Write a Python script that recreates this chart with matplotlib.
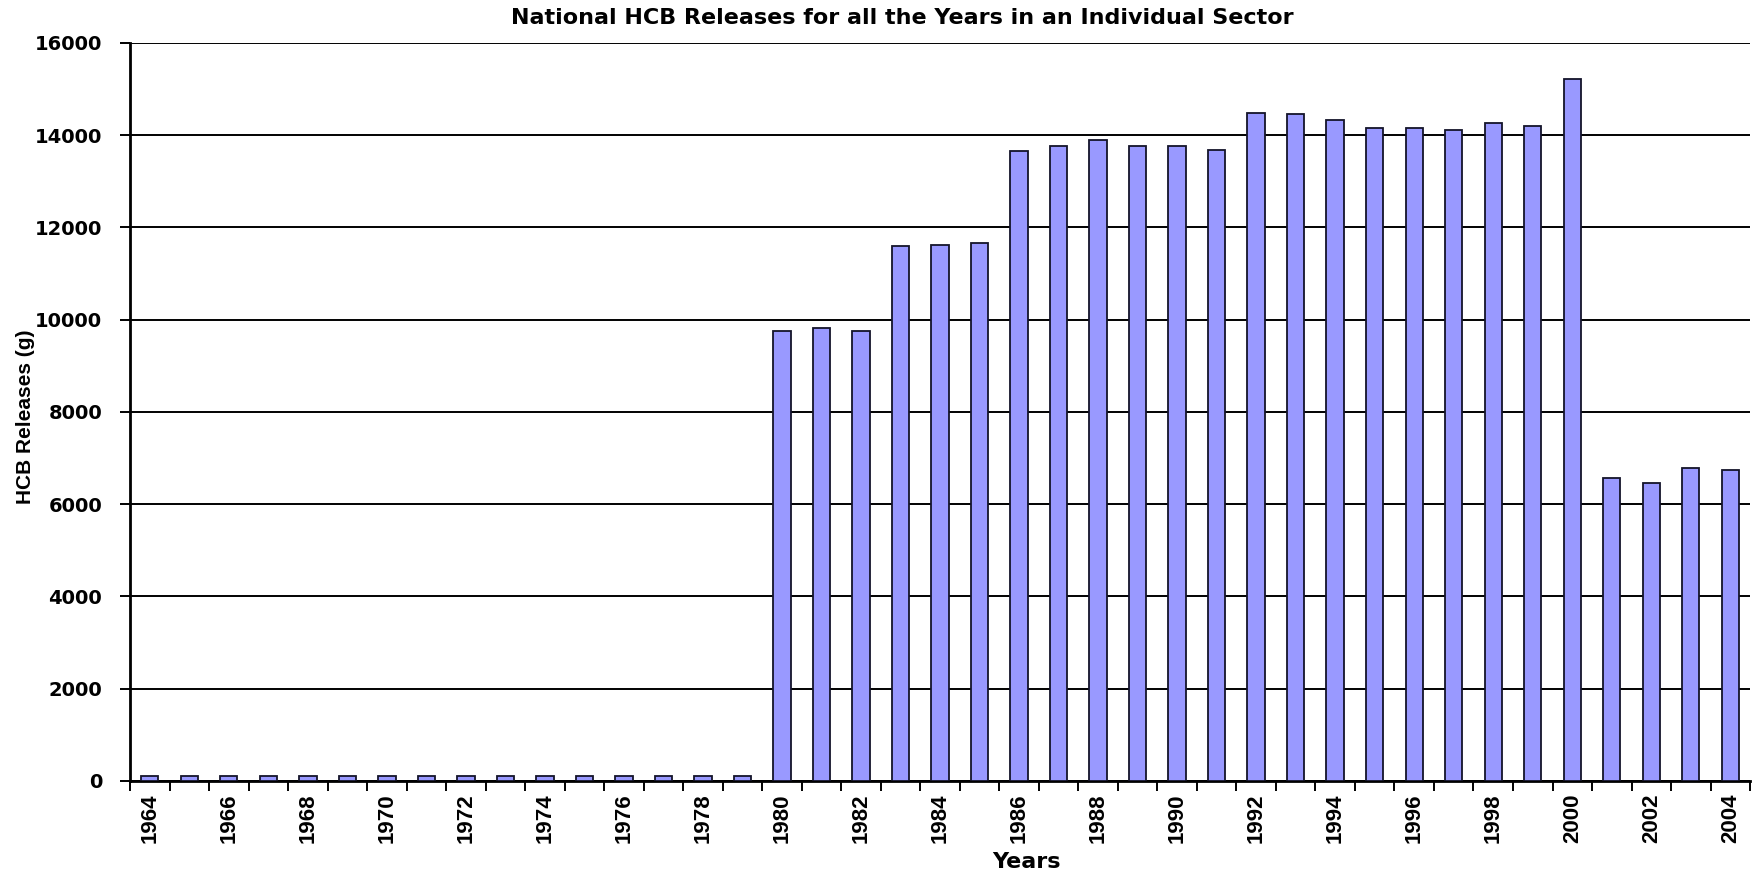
import matplotlib
matplotlib.use('Agg')
import matplotlib.pyplot as plt
import numpy as np
from matplotlib import font_manager

years = list(range(1964, 2005))

# HCB releases in grams, one value per year
releases = [110, 110, 110, 110, 110, 110, 110, 110, 110, 110, 110, 110, 110, 110, 110, 110,
            9750, 9820, 9750, 11600, 11630, 11670,
            13650, 13760, 13900, 13760, 13760, 13690,
            14480, 14450, 14340, 14160, 14160, 14120, 14270, 14200,
            15210,
            6570, 6460, 6780, 6750]

yticks = [0, 2000, 4000, 6000, 8000, 10000, 12000, 14000, 16000]

title = 'National HCB Releases for all the Years in an Individual Sector'
xlabel = 'Years'
ylabel = 'HCB Releases (g)'

# narrow font for the rotated year labels if it is around
names = set(f.name for f in font_manager.fontManager.ttflist)
narrow = 'Liberation Sans Narrow' if 'Liberation Sans Narrow' in names else 'Liberation Sans'

fig = plt.figure(figsize=(17.52, 8.72), dpi=100)
ax = fig.add_axes([0.0742, 0.1044, 0.9247, 0.8463])

x = np.arange(len(years))
ax.bar(x, releases, width=0.44, color='#9999ff', edgecolor='#14142a', linewidth=1.3, zorder=3)

ax.set_xlim(-0.5, len(years) - 0.5)
ax.set_ylim(0, 16000)

# horizontal grid in black, like the old spreadsheet look
ax.set_yticks(yticks)
ax.yaxis.grid(True, color='black', linewidth=1.4, zorder=0)
ax.set_yticklabels([str(v) for v in yticks], fontsize=14, fontweight='bold', family='DejaVu Sans')
ax.tick_params(axis='y', length=7, width=1.4, pad=13)

# year labels every second year, tick marks sit between the bars
ax.set_xticks(x[::2])
ax.set_xticklabels([str(y) for y in years[::2]], rotation=90, fontsize=16,
                   fontweight='bold', family=narrow)
ax.tick_params(axis='x', which='major', length=0, pad=9)
ax.set_xticks(np.arange(-0.5, len(years)), minor=True)
ax.tick_params(axis='x', which='minor', length=7, width=1.4)

for side in ['top', 'right']:
    ax.spines[side].set_visible(False)
ax.spines['left'].set_linewidth(2)
ax.spines['bottom'].set_linewidth(2)

fig.text(0.515, 0.979, title, ha='center', va='center', fontsize=16, fontweight='bold', family='DejaVu Sans')
fig.text(0.586, 0.012, xlabel, ha='center', va='center', fontsize=16, fontweight='bold', family='DejaVu Sans')
fig.text(0.0143, 0.522, ylabel, ha='center', va='center', rotation=90, fontsize=15,
         fontweight='bold', family=narrow)

fig.savefig('out.png', dpi=100)
